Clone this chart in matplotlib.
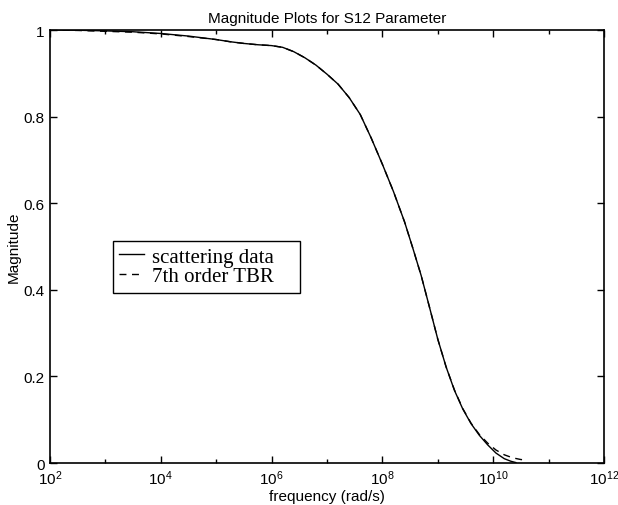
"""Magnitude of S12: scattering data vs 7th order TBR model."""

import matplotlib

matplotlib.use("Agg")
import matplotlib.pyplot as plt
import numpy as np
from matplotlib.ticker import FixedLocator, FuncFormatter, NullFormatter

plt.rcParams["font.family"] = ["Liberation Sans", "DejaVu Sans"]
plt.rcParams["mathtext.default"] = "regular"

# log10 of frequency (rad/s) and magnitude
log_freq = [2.0, 2.5, 3.0, 3.5, 4.0, 4.5, 5.0, 5.25, 5.5, 5.75, 6.0, 6.2,
            6.4, 6.6, 6.8, 7.0, 7.2, 7.4, 7.6, 7.8, 8.0, 8.2, 8.4, 8.55,
            8.7, 8.85, 9.0, 9.15, 9.3, 9.45, 9.6, 9.75, 9.9, 10.05, 10.2,
            10.32, 10.41]
mag_data = [1.0, 0.9995, 0.998, 0.996, 0.992, 0.986, 0.978, 0.973, 0.969,
            0.966, 0.964, 0.960, 0.950, 0.936, 0.919, 0.898, 0.875, 0.844,
            0.805, 0.750, 0.690, 0.627, 0.557, 0.496, 0.433, 0.360, 0.286,
            0.222, 0.168, 0.125, 0.091, 0.064, 0.042, 0.023, 0.010, 0.004,
            0.001]

log_freq_tbr = [2.0, 2.5, 3.0, 3.5, 4.0, 4.5, 5.0, 5.25, 5.5, 5.75, 6.0, 6.2,
                6.4, 6.6, 6.8, 7.0, 7.2, 7.4, 7.6, 7.8, 8.0, 8.2, 8.4, 8.55,
                8.7, 8.85, 9.0, 9.15, 9.3, 9.45, 9.6, 9.75, 9.9, 10.05, 10.2,
                10.35, 10.5, 10.59]
mag_tbr = [1.0, 0.999, 0.997, 0.995, 0.991, 0.985, 0.978, 0.973, 0.969,
           0.966, 0.964, 0.960, 0.950, 0.936, 0.919, 0.898, 0.875, 0.844,
           0.805, 0.750, 0.690, 0.627, 0.557, 0.496, 0.433, 0.360, 0.286,
           0.222, 0.169, 0.126, 0.092, 0.066, 0.046, 0.030, 0.019, 0.012,
           0.008, 0.007]

FONT_PT = 11


def main():
    fig = plt.figure(figsize=(6.18, 5.06), dpi=100)
    ax = fig.add_axes([0.0809, 0.083, 0.8964, 0.8557])

    ax.plot(10 ** np.array(log_freq), mag_data, "k-", lw=1.0,
            label="scattering data")
    ax.plot(10 ** np.array(log_freq_tbr), mag_tbr, "k--", lw=1.0,
            dashes=(5, 4), label="7th order TBR")

    ax.set_xscale("log")
    ax.set_xlim(1e2, 1e12)
    ax.set_ylim(0, 1)

    ax.xaxis.set_major_locator(FixedLocator([10.0 ** k for k in range(2, 13, 2)]))
    ax.xaxis.set_minor_locator(FixedLocator([10.0 ** k for k in range(3, 12, 2)]))
    ax.xaxis.set_major_formatter(
        FuncFormatter(lambda v, _: r"$10^{%d}$" % round(np.log10(v))))
    ax.xaxis.set_minor_formatter(NullFormatter())
    ax.set_yticks([0, 0.2, 0.4, 0.6, 0.8, 1.0])
    ax.set_yticklabels(["0", "0.2", "0.4", "0.6", "0.8", "1"])

    ax.tick_params(which="both", direction="in", top=True, right=True,
                   labelsize=FONT_PT, width=1.0)
    ax.tick_params(which="major", length=5, pad=4)
    ax.tick_params(which="minor", length=3)
    for sp in ax.spines.values():
        sp.set_linewidth(1.2)

    ax.set_xlabel("frequency (rad/s)", fontsize=FONT_PT, labelpad=1)
    ax.set_ylabel("Magnitude", fontsize=FONT_PT, labelpad=2)
    ax.set_title("Magnitude Plots for S12 Parameter", fontsize=FONT_PT, pad=6)

    # legend frame spans a fixed box, as in the reference
    leg = ax.legend(loc="upper left", mode="expand",
                    bbox_to_anchor=(0.114, 0.386, 0.337, 0.127),
                    prop={"family": "Liberation Serif", "size": 15},
                    fancybox=False, framealpha=1, edgecolor="black",
                    handlelength=1.2, handletextpad=0.35, borderpad=0.3,
                    labelspacing=0.0, borderaxespad=0)
    leg.get_frame().set_linewidth(1.0)

    fig.savefig("out.png", dpi=100)


if __name__ == "__main__":
    main()
